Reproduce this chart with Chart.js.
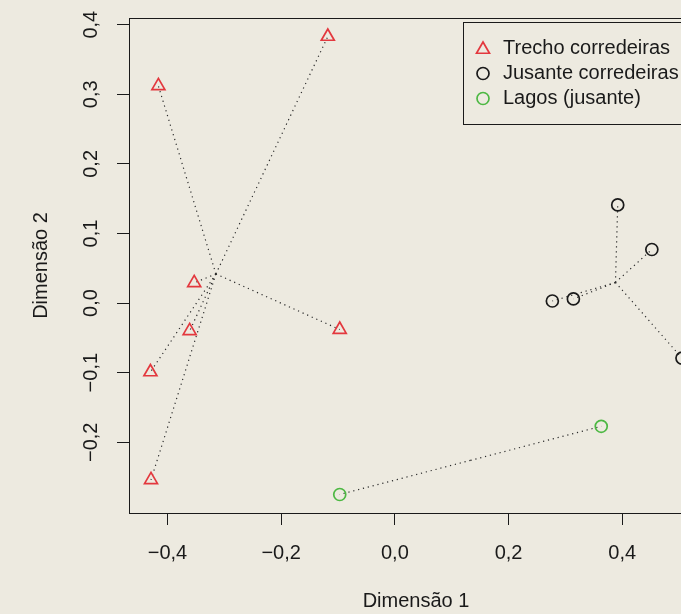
<!DOCTYPE html>
<html lang="pt-BR">
<head>
<meta charset="utf-8">
<title>Dimensão 1 x Dimensão 2</title>
<script src="https://cdn.jsdelivr.net/npm/chart.js@4.4.1/dist/chart.umd.min.js"></script>
<style>
    html, body { margin: 0; padding: 0; background: #EDEAE0; overflow: hidden; }
    #grafico { display: block; }
</style>
</head>
<body>
<canvas id="grafico" width="720" height="614"></canvas>
<script>
// Valores (ordenação em 2 dimensões)
const grupos = ['Trecho corredeiras', 'Jusante corredeiras', 'Lagos (jusante)'];

const trechoX = [-0.416, -0.118, -0.353, -0.361, -0.430, -0.429, -0.097];
const trechoY = [0.312, 0.383, 0.029, -0.040, -0.099, -0.254, -0.038];

const jusanteX = [0.392, 0.452, 0.277, 0.314, 0.505];
const jusanteY = [0.141, 0.077, 0.003, 0.006, -0.079];

const lagosX = [-0.097, 0.363];
const lagosY = [-0.275, -0.177];

const xTicks = [-0.4, -0.2, 0.0, 0.2, 0.4];
const xTickLabels = ['\u22120,4', '\u22120,2', '0,0', '0,2', '0,4'];
const yTicks = [-0.2, -0.1, 0.0, 0.1, 0.2, 0.3, 0.4];
const yTickLabels = ['\u22120,2', '\u22120,1', '0,0', '0,1', '0,2', '0,3', '0,4'];

const cores = ['#E3383E', '#1A1A1A', '#4DB843'];
const simbolos = ['triangle', 'circle', 'circle'];

const FONTE = "'Liberation Sans', Arial, Helvetica, sans-serif";
const TEXTO = '#1A1A1A';

/**
 * Linhas pontilhadas do centroide do grupo até cada ponto (tipo "ordispider")
 */
function aranha(xs, ys) {
    const cx = xs.reduce((a, b) => a + b, 0) / xs.length;
    const cy = ys.reduce((a, b) => a + b, 0) / ys.length;
    return xs.map((x, i) => ({
        data: [{ x: cx, y: cy }, { x: x, y: ys[i] }],
        showLine: true,
        borderColor: '#2A2A2A',
        borderWidth: 1.2,
        borderDash: [1.2, 3.8],
        pointRadius: 0,
        order: 2
    }));
}

function pontos(xs, ys, g) {
    return {
        label: grupos[g],
        data: xs.map((x, i) => ({ x: x, y: ys[i] })),
        pointStyle: simbolos[g],
        pointRadius: g === 0 ? 7.5 : 6,
        pointBorderColor: cores[g],
        pointBackgroundColor: 'rgba(0,0,0,0)',
        pointBorderWidth: 1.7,
        pointHoverRadius: g === 0 ? 7.5 : 6,
        order: 1
    };
}

const datasets = [
    ...aranha(trechoX, trechoY),
    ...aranha(jusanteX, jusanteY),
    ...aranha(lagosX, lagosY),
    pontos(trechoX, trechoY, 0),
    pontos(jusanteX, jusanteY, 1),
    pontos(lagosX, lagosY, 2)
];

// caixa do gráfico + legenda no canto superior direito
const caixaPlugin = {
    id: 'caixa',
    afterDraw(chart) {
        const ctx = chart.ctx;
        const a = chart.chartArea;
        ctx.save();
        ctx.strokeStyle = TEXTO;
        ctx.lineWidth = 1;
        ctx.strokeRect(Math.round(a.left) + 0.5, Math.round(a.top) + 0.5,
            Math.round(a.right - a.left), Math.round(a.bottom - a.top));

        // legenda
        const lx = 463.5, ly = 22.5, lw = 697 - 463.5, lh = 102;
        ctx.fillStyle = '#EDEAE0';
        ctx.fillRect(lx, ly, lw, lh);
        ctx.strokeRect(lx, ly, lw, lh);
        ctx.font = '20px ' + FONTE;
        ctx.textBaseline = 'middle';
        ctx.textAlign = 'left';
        grupos.forEach((nome, g) => {
            const y = 48.5 + g * 25;
            ctx.strokeStyle = cores[g];
            ctx.fillStyle = 'rgba(0,0,0,0)';
            ctx.lineWidth = 1.7;
            Chart.helpers.drawPoint(ctx, {
                pointStyle: simbolos[g],
                radius: g === 0 ? 7.5 : 6,
                rotation: 0,
                borderWidth: 1.7
            }, 483, g === 0 ? y + 1 : y);
            ctx.fillStyle = TEXTO;
            ctx.fillText(nome, 503, y);
        });
        ctx.restore();
    }
};

Chart.defaults.font.family = FONTE;
Chart.defaults.font.size = 20;
Chart.defaults.color = TEXTO;

new Chart(document.getElementById('grafico'), {
    type: 'scatter',
    data: { datasets: datasets },
    options: {
        responsive: false,
        animation: false,
        events: [],
        layout: { padding: { left: 0, top: 16, right: 17, bottom: 0 } },
        plugins: {
            legend: { display: false },
            tooltip: { enabled: false }
        },
        scales: {
            x: {
                type: 'linear',
                position: 'bottom',
                min: -0.4677,
                max: 0.542,
                afterBuildTicks: (s) => { s.ticks = xTicks.map(v => ({ value: v })); },
                afterFit: (s) => { s.height = 101; },
                border: { display: false },
                grid: { drawOnChartArea: false, drawTicks: true, tickLength: 12, color: TEXTO, lineWidth: 1 },
                ticks: {
                    autoSkip: false,
                    maxRotation: 0,
                    padding: 16,
                    color: TEXTO,
                    callback: (v, i) => xTickLabels[i]
                },
                title: {
                    display: true,
                    text: 'Dimensão 1',
                    color: TEXTO,
                    padding: { top: 0, bottom: 1 }
                }
            },
            y: {
                type: 'linear',
                position: 'left',
                min: -0.3016,
                max: 0.4096,
                afterBuildTicks: (s) => { s.ticks = yTicks.map(v => ({ value: v })); },
                afterFit: (s) => { s.width = 129; },
                border: { display: false },
                grid: { drawOnChartArea: false, drawTicks: true, tickLength: 12, color: TEXTO, lineWidth: 1 },
                ticks: {
                    autoSkip: false,
                    minRotation: 90,
                    maxRotation: 90,
                    crossAlign: 'center',
                    padding: 6,
                    color: TEXTO,
                    callback: (v, i) => yTickLabels[i]
                },
                title: {
                    display: true,
                    text: 'Dimensão 2',
                    color: TEXTO,
                    padding: { top: 29, bottom: 0 }
                }
            }
        }
    },
    plugins: [caixaPlugin]
});
</script>
</body>
</html>
